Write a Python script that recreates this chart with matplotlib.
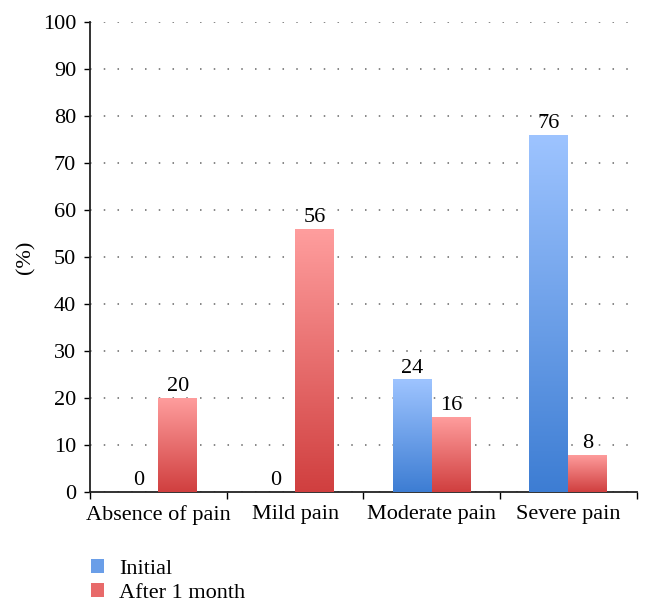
import matplotlib.pyplot as plt
import numpy as np
from matplotlib.colors import LinearSegmentedColormap
from matplotlib.patches import Patch

categories = ["Absence of pain", "Mild pain", "Moderate pain", "Severe pain"]
initial = [0, 0, 24, 76]
after_month = [20, 56, 16, 8]
series_names = ["Initial", "After 1 month"]

plt.rcParams['font.family'] = ['Liberation Serif', 'DejaVu Serif']

fig = plt.figure(figsize=(6.53, 6.16), dpi=100)
ax = fig.add_axes([0.138, 0.201, 0.837, 0.763])

blue_cmap = LinearSegmentedColormap.from_list("b", ["#3d7dd3", "#9ec4ff"])
red_cmap = LinearSegmentedColormap.from_list("r", ["#d03f3f", "#ff9e9e"])

x = np.arange(len(categories))
w = 0.285
grad = np.linspace(0, 1, 256).reshape(-1, 1)

for vals, off, cmap in [(initial, -w / 2, blue_cmap), (after_month, w / 2, red_cmap)]:
    bars = ax.bar(x + off, vals, w, color="none", edgecolor="none", zorder=3)
    for b, v in zip(bars, vals):
        if v > 0:
            im = ax.imshow(grad, cmap=cmap, origin="lower", aspect="auto",
                           extent=[b.get_x(), b.get_x() + w, 0, v], zorder=3)
            im.set_clip_path(b)
        ax.text(b.get_x() + w / 2, v + 0.4, str(v), ha="center", va="bottom",
                fontsize=16, zorder=4)

ax.set_xlim(-0.5, len(categories) - 0.5)
ax.set_ylim(0, 100)
ax.set_yticks(np.arange(0, 101, 10))
ax.set_xticks(x)
ax.set_xticklabels(categories, fontsize=16)
ax.set_xticks(np.arange(-0.5, len(categories), 1), minor=True)
ax.tick_params(axis="x", which="major", length=0, pad=9)
ax.tick_params(axis="x", which="minor", length=5, width=1, direction="out")
ax.tick_params(axis="y", length=4, width=1, labelsize=16, pad=6)
ax.yaxis.grid(True, linestyle=(0, (1, 8)), color="#666666", linewidth=1.1)
ax.set_axisbelow(True)
for s in ["top", "right"]:
    ax.spines[s].set_visible(False)
for s in ["left", "bottom"]:
    ax.spines[s].set_linewidth(1.3)
    ax.spines[s].set_color("#222222")
ax.set_ylabel("(%)", fontsize=16)
ax.yaxis.set_label_coords(-0.1, 0.5)

handles = [Patch(facecolor="#6a9ee8", edgecolor="none"),
           Patch(facecolor="#e86a6a", edgecolor="none")]
fig.legend(handles, series_names, loc="upper left", bbox_to_anchor=(0.125, 0.107),
           frameon=False, fontsize=16, handlelength=0.6, handleheight=0.6,
           handletextpad=0.7, labelspacing=0.2, borderaxespad=0)

fig.savefig("out.png", dpi=100)
